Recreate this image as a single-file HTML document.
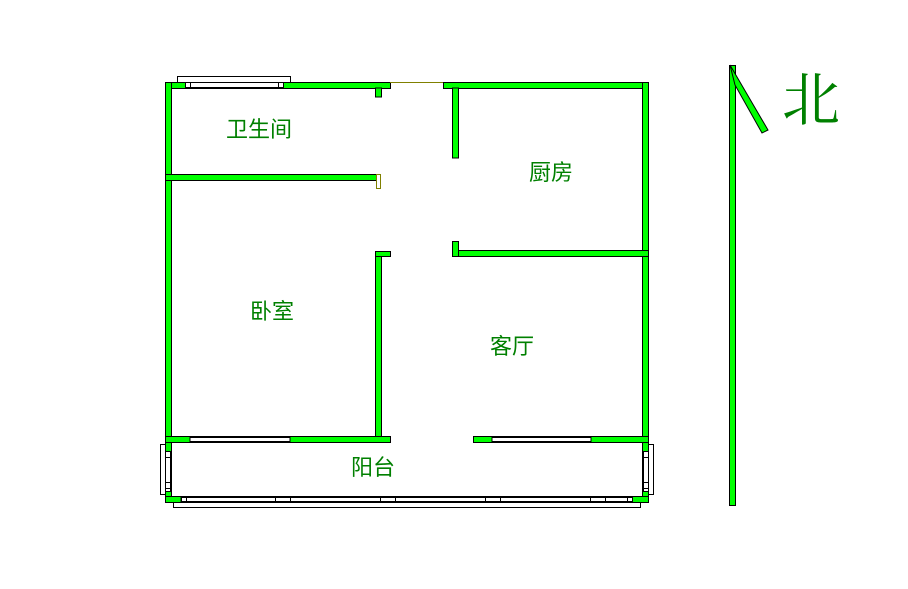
<!DOCTYPE html>
<html><head><meta charset="utf-8"><style>
html,body{margin:0;padding:0;background:#fff;width:908px;height:589px;overflow:hidden}
svg{display:block}
text{font-family:"Liberation Sans","Noto Sans CJK SC",sans-serif;fill:#008000}
</style></head><body>
<svg width="908" height="589" viewBox="0 0 908 589" xmlns="http://www.w3.org/2000/svg">
<g fill="#00ff00" stroke="#000" stroke-width="1">
<rect x="165.5" y="82.5" width="225" height="6"/>
<rect x="443.5" y="82.5" width="205" height="6"/>
<rect x="165.5" y="82.5" width="6" height="420"/>
<rect x="642.5" y="82.5" width="6" height="420"/>
<rect x="165.5" y="496.5" width="483" height="6"/>
<rect x="165.5" y="174.5" width="211" height="6"/>
<rect x="375.5" y="88" width="6" height="9"/>
<rect x="452.5" y="88" width="6" height="70"/>
<rect x="452.5" y="250.5" width="196" height="6"/>
<rect x="452.5" y="241.5" width="6" height="15"/>
<rect x="375.5" y="251.5" width="6" height="190"/>
<rect x="375.5" y="251.5" width="15" height="5"/>
<rect x="165.5" y="436.5" width="225" height="6"/>
<rect x="473.5" y="436.5" width="175" height="6"/>
<rect x="729.5" y="65.5" width="6" height="440"/>
<polygon points="730,65 768,130 762,133 735,85"/>
</g>
<rect x="376.5" y="174.5" width="4" height="14" fill="#fff" stroke="#808000"/>
<line x1="390" y1="82.5" x2="443" y2="82.5" stroke="#808000"/>
<g fill="#fff" stroke="#000" stroke-width="1">
<rect x="177.5" y="76.5" width="113" height="6"/>
<rect x="185.5" y="82.5" width="96" height="5"/>
<rect x="185.5" y="82.5" width="5" height="5"/>
<rect x="278.5" y="82.5" width="5" height="5"/>
<rect x="190" y="437.5" width="100" height="4"/>
<rect x="492" y="437.5" width="99" height="4"/>
<rect x="160.5" y="444.5" width="5" height="50"/>
<rect x="165.5" y="452.5" width="5" height="39"/>
<rect x="165.5" y="451.5" width="5" height="6"/>
<rect x="165.5" y="482.5" width="5" height="6"/>
<rect x="648.5" y="444.5" width="5" height="50"/>
<rect x="643.5" y="452.5" width="5" height="39"/>
<rect x="643.5" y="451.5" width="5" height="6"/>
<rect x="643.5" y="482.5" width="5" height="6"/>
<rect x="173.5" y="502.5" width="467" height="5"/>
<rect x="181" y="497.5" width="451" height="4"/>
<rect x="181.5" y="497.5" width="5" height="4"/>
<rect x="275.5" y="497.5" width="15" height="4"/>
<rect x="380.5" y="497.5" width="15" height="4"/>
<rect x="485.5" y="497.5" width="15" height="4"/>
<rect x="590.5" y="497.5" width="15" height="4"/>
<rect x="627.5" y="497.5" width="5" height="4"/>
</g>
<g font-size="22" text-anchor="middle">
<text x="259" y="137">卫生间</text>
<text x="551" y="180">厨房</text>
<text x="272" y="319">卧室</text>
<text x="512" y="354">客厅</text>
<text x="373" y="475">阳台</text>
<text x="811" y="120" font-size="58" style="font-family:'Noto Serif CJK SC',serif">北</text>
</g>
</svg>
</body></html>
